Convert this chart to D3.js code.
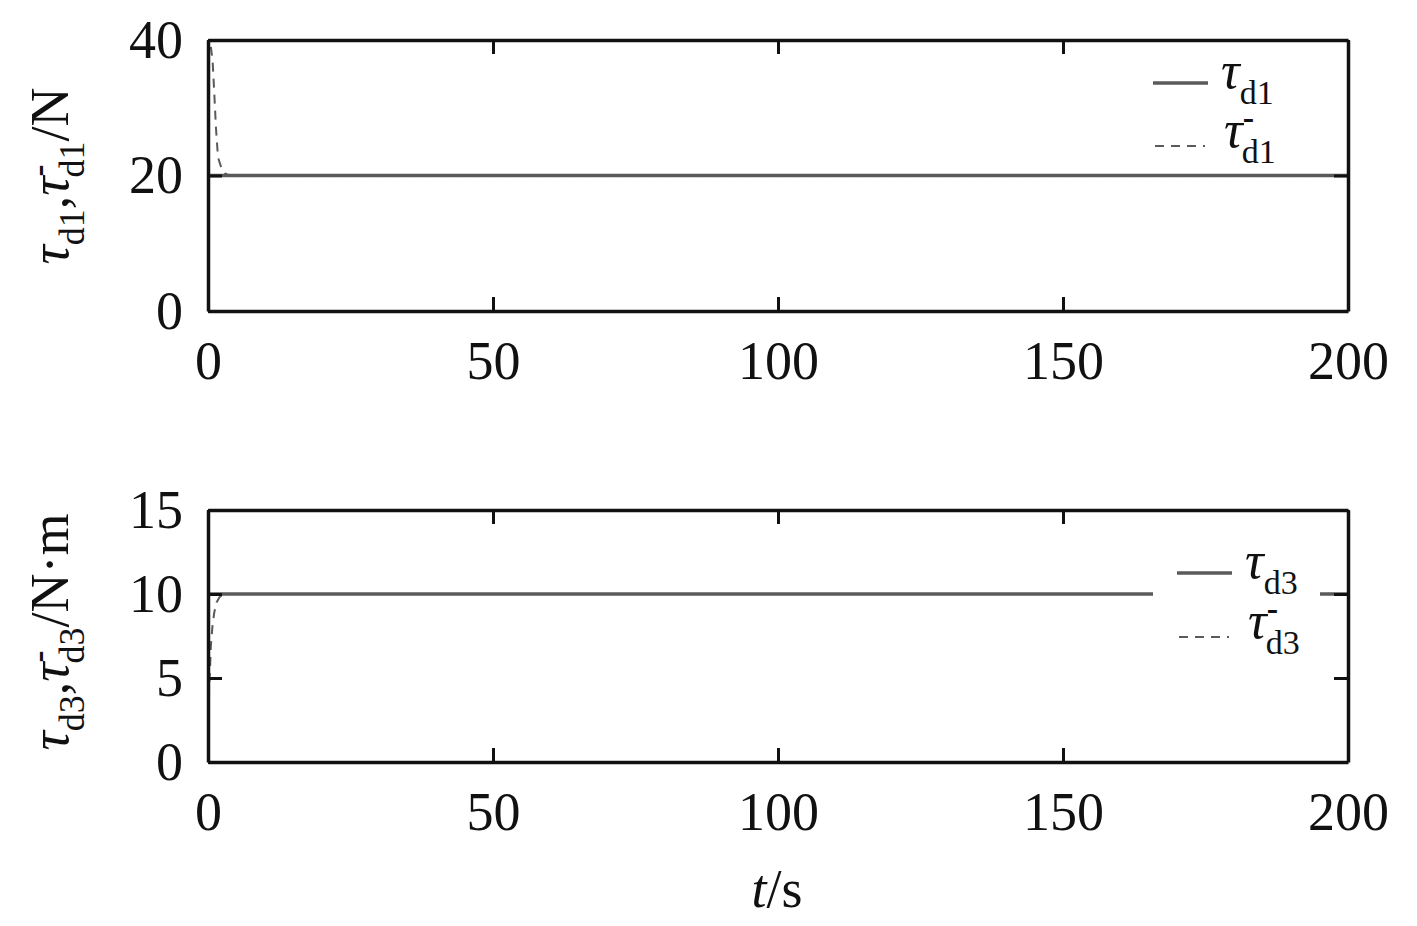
<!DOCTYPE html>
<html lang="en">
<head>
<meta charset="UTF-8">
<title>tau d1 / tau d3</title>
<script src="https://d3js.org/d3.v7.min.js"></script>
<style>
  body { margin: 0; background: #fff; }
  svg text { font-family: "Liberation Serif", "Times New Roman", serif; fill: #111; }
  .tick line { stroke: #111; stroke-width: 3; }
  .domain { stroke: #111; stroke-width: 3.5; }
</style>
</head>
<body>
<div id="chart"></div>
<script>
// data
var xTicks = [0, 50, 100, 150, 200];
var yTicksTop = [0, 20, 40];
var yTicksBottom = [0, 5, 10, 15];

var tD1 = [0, 200];
var tauD1 = [20, 20];
var tD1est = [0.5, 0.8, 1.05, 1.4, 1.75, 2.2, 2.6, 3.0, 3.5, 4.0, 200];
var tauD1est = [39, 37, 33, 27, 22.7, 21.5, 20.8, 20.3, 20.1, 20, 20];

var tD3 = [0, 200];
var tauD3 = [10, 10];
var tD3est = [0, 0.1, 0.2, 0.35, 0.5, 0.8, 1.1, 1.5, 2.0, 2.5, 3.0, 200];
var tauD3est = [0, 2.5, 4.5, 5.5, 6.9, 8.15, 8.9, 9.5, 9.8, 9.95, 10, 10];

var W = 1417, H = 926;
var FONT = "Liberation Serif, Times New Roman, serif";
var svg = d3.select("#chart").append("svg")
    .attr("width", W).attr("height", H);

var x = d3.scaleLinear().domain([0, 200]).range([208, 1348]);

function panel(id, yDomain, yRange, yTicks, tS, vS, tD, vD) {
  var y = d3.scaleLinear().domain(yDomain).range(yRange);
  var g = svg.append("g");

  g.append("clipPath").attr("id", id)
    .append("rect")
      .attr("x", x(0)).attr("y", y(yDomain[1]))
      .attr("width", x(200) - x(0)).attr("height", y(yDomain[0]) - y(yDomain[1]));

  var line = d3.line().x(function(d) { return x(d[0]); }).y(function(d) { return y(d[1]); });

  var lines = g.append("g").attr("clip-path", "url(#" + id + ")");
  lines.append("path")
    .attr("d", line(d3.zip(tS, vS)))
    .attr("fill", "none").attr("stroke", "#5a5a5a").attr("stroke-width", 3.5);
  lines.append("path")
    .attr("d", line(d3.zip(tD, vD)))
    .attr("fill", "none").attr("stroke", "#5a5a5a").attr("stroke-width", 2)
    .attr("stroke-dasharray", "9,7");

  // axes, ticks pointing inward on all four sides
  g.append("g").attr("transform", "translate(0," + y(yDomain[0]) + ")")
    .call(d3.axisBottom(x).tickValues(xTicks).tickSizeInner(-14).tickSizeOuter(0).tickPadding(30))
    .attr("font-family", FONT).attr("font-size", 54);
  g.append("g").attr("transform", "translate(0," + y(yDomain[1]) + ")")
    .call(d3.axisTop(x).tickValues(xTicks).tickSizeInner(-14).tickSizeOuter(0).tickFormat(""));
  g.append("g").attr("transform", "translate(" + x(0) + ",0)")
    .call(d3.axisLeft(y).tickValues(yTicks).tickSizeInner(-14).tickSizeOuter(0).tickPadding(25))
    .attr("font-family", FONT).attr("font-size", 54);
  g.append("g").attr("transform", "translate(" + x(200) + ",0)")
    .call(d3.axisRight(y).tickValues(yTicks).tickSizeInner(-14).tickSizeOuter(0).tickFormat(""));

  return y;
}

var yTop = panel("clipTop", [0, 40], [311, 40], yTicksTop, tD1, tauD1, tD1est, tauD1est);
var yBot = panel("clipBot", [0, 15], [762, 510], yTicksBottom, tD3, tauD3, tD3est, tauD3est);

// tau symbol with optional bar and a subscript; returns dy that restores the baseline
function tauText(sel, sub, bar, big, small, dyIn) {
  sel.append("tspan").attr("font-style", "italic").attr("font-size", big)
    .attr("dy", dyIn || 0).text("\u03c4");
  if (bar) {
    sel.append("tspan").attr("font-size", small).attr("font-weight", "bold")
      .attr("dy", -0.34 * big).text("-");
    sel.append("tspan").attr("font-size", small).attr("dx", -small * 0.36)
      .attr("dy", 0.34 * big + 0.3 * big).text(sub);
  } else {
    sel.append("tspan").attr("font-size", small).attr("dy", 0.3 * big).text(sub);
  }
  return -0.3 * big;
}

// legends
function legend(lx, ly1, ly2, sub, gapRect) {
  svg.append("rect").attr("x", gapRect[0]).attr("y", gapRect[1])
    .attr("width", gapRect[2]).attr("height", gapRect[3]).attr("fill", "#fff");
  svg.append("line").attr("x1", lx).attr("x2", lx + 55).attr("y1", ly1).attr("y2", ly1)
    .attr("stroke", "#5a5a5a").attr("stroke-width", 3.5);
  svg.append("line").attr("x1", lx + 2).attr("x2", lx + 52).attr("y1", ly2).attr("y2", ly2)
    .attr("stroke", "#5a5a5a").attr("stroke-width", 2).attr("stroke-dasharray", "9,7");
  var t1 = svg.append("text").attr("x", lx + 68).attr("y", ly1 + 5).attr("font-size", 52);
  tauText(t1, sub, false, 52, 34);
  var t2 = svg.append("text").attr("x", lx + 71).attr("y", ly2 + 1).attr("font-size", 52);
  tauText(t2, sub, true, 52, 34);
}

legend(1153, 83, 146, "d1", [1145, 52, 170, 112]);
legend(1177, 573, 637, "d3", [1153, 545, 167, 120]);

// y labels
function yLabel(cy) {
  return svg.append("text")
    .attr("transform", "translate(68," + cy + ") rotate(-90)")
    .attr("text-anchor", "middle")
    .attr("font-size", 54);
}
var yl1 = yLabel(176);
var back = tauText(yl1, "d1", false, 54, 36);
yl1.append("tspan").attr("font-size", 54).attr("dy", back).text(",");
back = tauText(yl1, "d1", true, 54, 36);
yl1.append("tspan").attr("font-size", 54).attr("dy", back).text("/N");

var yl2 = yLabel(632);
back = tauText(yl2, "d3", false, 54, 36);
yl2.append("tspan").attr("font-size", 54).attr("dy", back).text(",");
back = tauText(yl2, "d3", true, 54, 36);
yl2.append("tspan").attr("font-size", 54).attr("dy", back).text("/N\u00b7m");

// x label
var xl = svg.append("text").attr("x", 777).attr("y", 907)
  .attr("text-anchor", "middle").attr("font-size", 54);
xl.append("tspan").attr("font-style", "italic").text("t");
xl.append("tspan").text("/s");
</script>
</body>
</html>
